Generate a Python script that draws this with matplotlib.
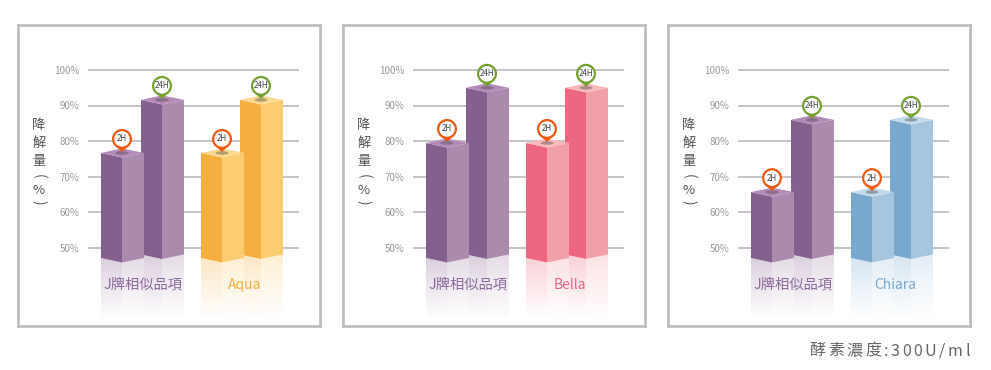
import numpy as np
from matplotlib import pyplot as plt
from matplotlib.colors import to_rgb
from matplotlib.patches import Polygon, Ellipse

plt.rcParams['font.family'] = ['Noto Sans CJK TC', 'DejaVu Sans']

W, H = 991, 370
PX = 3.56  # pixels per percent

names = ['Aqua', 'Bella', 'Chiara']
reference_name = 'J牌相似品項'
values_2h = [76.7, 79.5, 65.7]
values_24h = [91.6, 95.0, 86.0]
ticks = [50, 60, 70, 80, 90, 100]
footer = '酵素濃度:300U/ml'

dark_colors = ['#f4af40', '#ee6680', '#78a8ce']
light_colors = ['#fccd70', '#f2a0a8', '#a6c6e0']
top_colors = ['#fcd991', '#f8b9bc', '#c3dbec']
purple = ('#84608e', '#aa8bae', '#b48ab8')

fig = plt.figure(figsize=(W / 100, H / 100), dpi=100, facecolor='white')


def py(y):
    # pixel row of the picture to percent
    return 50 + (248 - y) / PX


def reflection(ax, pts, color, z):
    # opaque fade to white, so the front bar hides the back one as in the reference
    fade = np.linspace(0.3, 0, 64)[:, None, None]
    rgb = 1 - fade * (1 - np.array(to_rgb(color))[None, None, :])
    rgb = np.repeat(rgb, 2, axis=1)
    xs = [p[0] for p in pts]
    ys = [p[1] for p in pts]
    im = ax.imshow(rgb, extent=(min(xs) - 1, max(xs) + 1, min(ys), max(ys)),
                   origin='upper', aspect='auto', zorder=z, interpolation='nearest')
    clip = Polygon(pts, closed=True, transform=ax.transData, fill=False, edgecolor='none')
    ax.add_patch(clip)
    im.set_clip_path(clip)


def bar(ax, x0, value, base, colors, z):
    # x0 left edge, front corner 21px in, right edge 43px in
    dark, light, top = colors
    xm, x1 = x0 + 21, x0 + 43
    dip = 4.5 / PX
    ax.add_patch(Polygon([(x0, base), (xm, base - dip), (xm, value - dip), (x0, value)],
                         color=dark, lw=0, zorder=z))
    ax.add_patch(Polygon([(xm, base - dip), (x1, base), (x1, value), (xm, value - dip)],
                         color=light, lw=0, zorder=z))
    ax.add_patch(Polygon([(x0, value), (xm, value - dip), (x1, value), (xm, value + dip)],
                         color=top, lw=0, zorder=z))
    end = py(319)
    reflection(ax, [(x0, base), (xm, base - dip), (xm, end), (x0, end)], dark, z - 1.5)
    reflection(ax, [(xm, base - dip), (x1, base), (x1, end), (xm, end)], light, z - 1.5)


def pin(ax, x, value, color, label):
    # tip sits on the bar top, head is a ring above it
    ax.add_patch(Ellipse((x, value), 13, 3.5 / PX, color='#444444', alpha=0.4, lw=0, zorder=6))
    cy = value + 14 / PX
    ax.add_patch(Polygon([(x - 8, cy - 5.5 / PX), (x + 8, cy - 5.5 / PX), (x, value + 0.3)],
                         color=color, lw=0, zorder=7))
    ax.add_patch(Ellipse((x, cy), 20, 20 / PX, color=color, lw=0, zorder=7))
    ax.add_patch(Ellipse((x, cy), 15.5, 15.5 / PX, color='white', lw=0, zorder=8))
    ax.text(x, cy, label, ha='center', va='center', fontsize=5.8, color='#444444', zorder=9)


for i, name in enumerate(names):
    left = 18 + 325 * i
    ax = fig.add_axes([left / W, 1 - 326 / H, 302 / W, 301 / H])
    ax.set_xlim(0, 302)
    ax.set_ylim(py(326), py(25))
    ax.set_xticks([])
    ax.set_yticks([])
    for s in ax.spines.values():
        s.set_color('#bcbcbc')
        s.set_linewidth(1.9)

    ax.hlines(ticks, 70, 281, color='#b5b5b5', lw=1.1, zorder=1)
    for t in ticks:
        ax.text(61, t - 0.2, f'{t}%', ha='right', va='center', fontsize=7, color='#9a9a9a')

    for c, y in [('降', 125), ('解', 143), ('量', 162), ('%', 191)]:
        ax.text(21, py(y), c, ha='center', va='center', fontsize=9.5, color='#555555')
    # the brackets lie on their side in the vertical label
    ax.text(21, py(176), '(', rotation=-90, ha='center', va='center', fontsize=10, color='#555555')
    ax.text(21, py(202), ')', rotation=-90, ha='center', va='center', fontsize=10, color='#555555')

    own = (dark_colors[i], light_colors[i], top_colors[i])
    base_front = py(258)
    base_back = py(254.5)

    # back bars first, the shorter front one overlaps them
    bar(ax, 123, values_24h[i], base_back, purple, 3)
    bar(ax, 83, values_2h[i], base_front, purple, 4)
    bar(ax, 222, values_24h[i], base_back, own, 3)
    bar(ax, 183, values_2h[i], base_front, own, 4)

    for x0, v, c, lab in [(83, values_2h[i], '#ee5a12', '2H'), (123, values_24h[i], '#76a032', '24H'),
                          (183, values_2h[i], '#ee5a12', '2H'), (222, values_24h[i], '#76a032', '24H')]:
        pin(ax, x0 + 21, v, c, lab)

    ax.text(125, py(284), reference_name, ha='center', va='center',
            fontsize=10.3, color='#8a6a9a', zorder=5)
    ax.text(227, py(285), name, ha='center', va='center',
            fontsize=10, color=dark_colors[i], zorder=5)

# footer is letter spaced, so lay it out one character at a time from the right
renderer = fig.canvas.get_renderer()
x = 970
for ch in reversed(footer):
    t = fig.text(x / W, 1 - 349 / H, ch, ha='right', va='center_baseline',
                 fontsize=11.5, color='#666666')
    x -= t.get_window_extent(renderer).width + 2.6

fig.savefig('out.png', dpi=100)
